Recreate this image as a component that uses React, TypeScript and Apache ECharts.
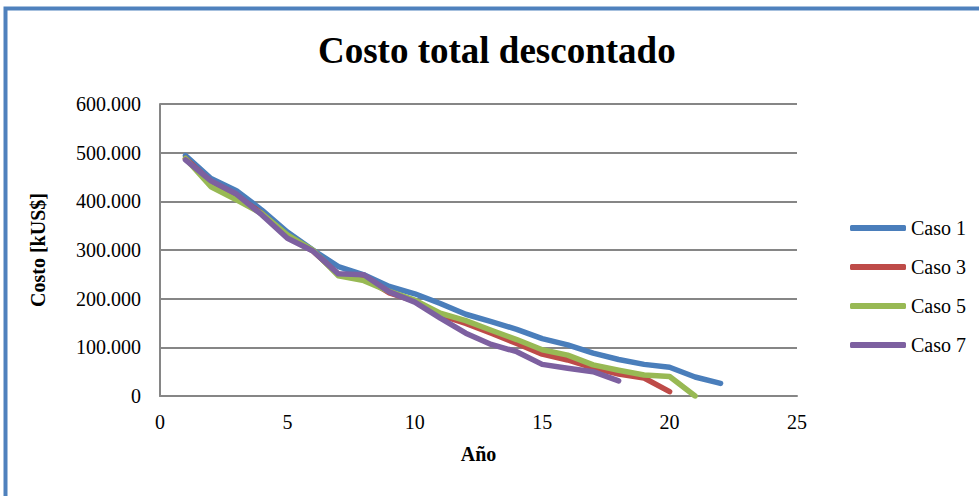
import React, { useEffect, useRef } from "react";
import * as echarts from "echarts";

const years1 = [1, 2, 3, 4, 5, 6, 7, 8, 9, 10, 11, 12, 13, 14, 15, 16, 17, 18, 19, 20, 21, 22];
const caso1 = [494, 447, 422, 382, 337, 300, 266, 249, 225, 210, 190, 168, 153, 137, 118, 105, 88, 75, 65, 59, 39, 26];
const caso3 = [488, 440, 412, 375, 328, 298, 250, 244, 212, 195, 166, 149, 129, 108, 86, 74, 58, 45, 37, 9];
const caso5 = [488, 430, 403, 375, 331, 300, 247, 237, 215, 197, 170, 155, 135, 116, 95, 84, 64, 53, 43, 40, 0];
const caso7 = [485, 442, 415, 372, 324, 298, 251, 249, 214, 193, 160, 129, 106, 91, 65, 57, 50, 31];

const seriesNames = ["Caso 1", "Caso 3", "Caso 5", "Caso 7"];
const seriesColors = ["#4A7EBB", "#BE4B48", "#98B954", "#7D60A0"];
const seriesValues = [caso1, caso3, caso5, caso7];

const FONT = "Liberation Serif";

function fmt(v: number): string {
  const s = String(Math.round(v));
  return s.replace(/\B(?=(\d{3})+(?!\d))/g, ".");
}

export default function App() {
  const ref = useRef<HTMLDivElement>(null);
  useEffect(() => {
    if (!ref.current) return;
    const chart = echarts.init(ref.current, null, { renderer: "svg" });
    chart.setOption({
      animation: false,
      backgroundColor: "#ffffff",
      textStyle: { fontFamily: FONT },
      title: {
        text: "Costo total descontado",
        left: 318,
        top: 32,
        padding: 0,
        textStyle: { fontFamily: FONT, fontSize: 37, fontWeight: "bold", color: "#000" },
      },
      graphic: [
        {
          type: "rect",
          shape: { x: 5.5, y: 8.5, width: 1000, height: 600 },
          style: { fill: "none", stroke: "#4F81BD", lineWidth: 4 },
          silent: true,
        },
      ],
      legend: {
        orient: "vertical",
        left: 845,
        top: 213,
        itemWidth: 56,
        itemHeight: 6,
        itemGap: 19,
        icon: "roundRect",
        textStyle: { fontFamily: FONT, fontSize: 20, color: "#000" },
        data: seriesNames,
      },
      grid: { left: 160, top: 104, width: 637, height: 292, containLabel: false },
      xAxis: {
        type: "value",
        min: 0,
        max: 25,
        interval: 5,
        name: "Año",
        nameLocation: "middle",
        nameGap: 48,
        nameTextStyle: { fontFamily: FONT, fontSize: 20, fontWeight: "bold", color: "#000" },
        axisLine: { show: true, lineStyle: { color: "#868686", width: 2 } },
        axisTick: { show: false },
        splitLine: { show: false },
        axisLabel: { margin: 16, fontFamily: FONT, fontSize: 20, color: "#000" },
      },
      yAxis: {
        type: "value",
        min: 0,
        max: 600000,
        interval: 100000,
        name: "Costo [kUS$]",
        nameLocation: "middle",
        nameRotate: 90,
        nameGap: 112,
        nameTextStyle: { fontFamily: FONT, fontSize: 20, fontWeight: "bold", color: "#000" },
        axisLine: { show: true, lineStyle: { color: "#868686", width: 2 } },
        axisTick: { show: false },
        splitLine: { show: true, lineStyle: { color: "#868686", width: 2 } },
        axisLabel: {
          margin: 19,
          fontFamily: FONT,
          fontSize: 20,
          color: "#000",
          formatter: (v: number) => fmt(v),
        },
      },
      series: seriesNames.map((name, i) => ({
        name,
        type: "line",
        symbol: "none",
        color: seriesColors[i],
        lineStyle: { width: 5.5, color: seriesColors[i], cap: "round", join: "round" },
        data: seriesValues[i].map((v, j) => [years1[j], v * 1000]),
      })),
    });
    return () => chart.dispose();
  }, []);
  return <div ref={ref} style={{ position: "absolute", left: 0, top: 0, width: 979, height: 496 }} />;
}
